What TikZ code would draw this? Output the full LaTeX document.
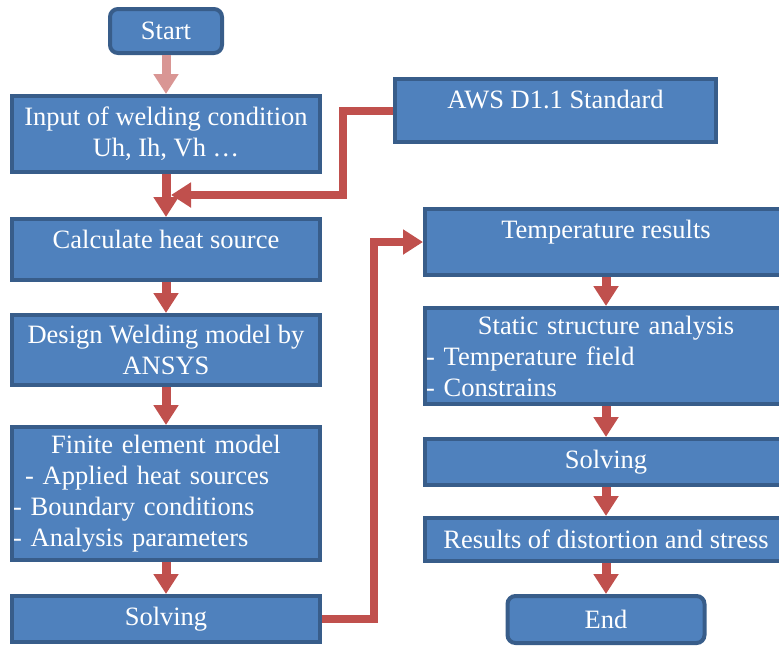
\documentclass[tikz,border=0pt]{standalone}
\usepackage{fontspec}
\setmainfont{Liberation Serif}
\usetikzlibrary{arrows.meta}
\definecolor{boxfill}{HTML}{4F81BD}
\definecolor{boxline}{HTML}{385D8A}
\definecolor{flowred}{HTML}{C0504D}
\definecolor{flowpink}{HTML}{D99694}

\begin{document}
\begin{tikzpicture}[x=1pt, y=-1pt,
		box/.style={draw=boxline, fill=boxfill, line width=4pt, text=white, font=\fontsize{26.5}{31}\selectfont, inner sep=1pt, align=center},
		term/.style={box, rounded corners=8pt},
		flow/.style={draw=flowred, line width=9pt, -{Triangle[width=24pt, length=20pt]}},
		link/.style={draw=flowred, line width=8pt, -{Triangle[width=24pt, length=20pt]}}]
		\useasboundingbox (0,0) rectangle (779,646);
		\node[term, minimum width=112pt, minimum height=44pt] (start) at (166,31) {Start};
		\node[box, minimum width=308pt, minimum height=76pt] (input) at (166,134) {Input of welding condition\\Uh, Ih, Vh …};
		\node[box, minimum width=308pt, minimum height=61pt, text depth=21pt] (heat) at (166,249.5) {Calculate heat source};
		\node[box, minimum width=308pt, minimum height=70pt] (design) at (166,350) {Design Welding model by\\ANSYS};
		\node[box, minimum width=308pt, minimum height=133pt, text width=306pt, align=left] (fem) at (166,493.5) {\makebox[306pt]{Finite element model}\\\hspace*{12pt}- Applied heat sources\\- Boundary conditions\\- Analysis parameters};
		\node[box, minimum width=308pt, minimum height=46pt] (solveL) at (166,619) {Solving};
		\node[box, minimum width=321pt, minimum height=63pt, text depth=23pt] (aws) at (555.5,110.5) {AWS D1.1 Standard};
		\node[box, minimum width=362pt, minimum height=66pt, text depth=26pt] (temp) at (606,242) {Temperature results};
		\node[box, minimum width=362pt, minimum height=96pt, text width=360pt, align=left] (static) at (606,356) {\makebox[360pt]{Static structure analysis}\\- Temperature field\\- Constrains};
		\node[box, minimum width=362pt, minimum height=46pt] (solveR) at (606,462) {Solving};
		\node[box, minimum width=362pt, minimum height=43pt] (result) at (606,539.5) {Results of distortion and stress};
		\node[term, minimum width=197pt, minimum height=47pt] (end) at (606,619.5) {End};
		\coordinate (merge) at (171,195);
		\draw[flow, draw=flowpink] (start.south) -- (input.north);
		\draw[flow] (input.south) -- (heat.north);
		\draw[flow] (heat.south) -- (design.north);
		\draw[flow] (design.south) -- (fem.north);
		\draw[flow] (fem.south) -- (solveL.north);
		\draw[link] (aws.west) -- ++(-50,0) |- (merge);
		\draw[link] (solveL.east) -- ++(52,0) |- (temp.west);
		\draw[flow] (temp.south) -- (static.north);
		\draw[flow] (static.south) -- (solveR.north);
		\draw[flow] (solveR.south) -- (result.north);
		\draw[flow] (result.south) -- (end.north);
	\end{tikzpicture}
\end{document}
